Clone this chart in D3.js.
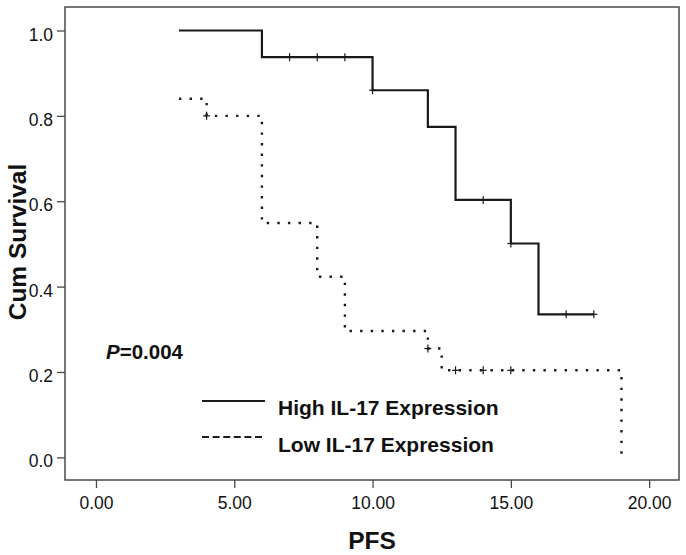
<!DOCTYPE html>
<html><head><meta charset="utf-8">
<script src="https://cdn.jsdelivr.net/npm/d3@7"></script>
<style>
html,body{margin:0;padding:0;background:#fff;}
text{font-family:"Liberation Sans",Arial,sans-serif;fill:#111;}
</style></head>
<body>
<svg id="c" width="686" height="555"></svg>
<script>
// ---- data ----
const highTimes = [3, 6, 10, 12, 13, 15, 16, 18];
const highSurv  = [1.0, 0.9375, 0.86, 0.774, 0.603, 0.501, 0.335, 0.335];
const highCensT = [7, 8, 9, 10, 14, 15, 17, 18];
const highCensS = [0.9375, 0.9375, 0.9375, 0.86, 0.603, 0.501, 0.335, 0.335];

const lowTimes = [3, 4, 6, 8, 9, 12, 12.5, 19];
const lowSurv  = [0.84, 0.80, 0.549, 0.423, 0.296, 0.255, 0.204, 0.0];
const lowCensT = [4, 12, 13, 14, 15];
const lowCensS = [0.80, 0.255, 0.204, 0.204, 0.204];

const xTicks = [0, 5, 10, 15, 20];
const yTicks = [0, 0.2, 0.4, 0.6, 0.8, 1.0];
const seriesNames = ["High IL-17 Expression", "Low IL-17 Expression"];
const pText = "=0.004";

// ---- layout ----
const svg = d3.select("#c");
const L = 65, T = 7, R = 679, B = 480;
const x = d3.scaleLinear().domain([-1.12, 21.08]).range([L, R]);
const y = d3.scaleLinear().domain([-0.053, 1.055]).range([B, T]);
const ink = "#1a1a1a";

// frame
svg.append("rect").attr("x", L).attr("y", T).attr("width", R - L).attr("height", B - T)
  .attr("fill", "none").attr("stroke", "#4a4a4a").attr("stroke-width", 1.5);

// axes
const xAxis = d3.axisBottom(x).tickValues(xTicks).tickFormat(d3.format(".2f")).tickSize(8).tickPadding(4);
const gx = svg.append("g").attr("transform", `translate(0,${B})`).call(xAxis);
gx.select(".domain").remove();
gx.selectAll("line").attr("stroke", "#4a4a4a").attr("stroke-width", 1.3);
gx.selectAll("text").attr("font-size", 17.5).attr("fill", "#0d0d0d").attr("dy", "0.95em")
  .style("font-family", "'Liberation Sans',Arial,sans-serif");

const yAxis = d3.axisLeft(y).tickValues(yTicks).tickFormat(d3.format(".1f")).tickSize(8).tickPadding(4);
const gy = svg.append("g").attr("transform", `translate(${L},0)`).call(yAxis);
gy.select(".domain").remove();
gy.selectAll("line").attr("stroke", "#4a4a4a").attr("stroke-width", 1.3);
gy.selectAll("text").attr("font-size", 17.5).attr("fill", "#0d0d0d").attr("dy", "0.55em")
  .style("font-family", "'Liberation Sans',Arial,sans-serif");

// titles
svg.append("text").attr("x", (L + R) / 2).attr("y", 549).attr("text-anchor", "middle")
  .attr("font-size", 24.5).attr("font-weight", "bold").text("PFS");
svg.append("text").attr("transform", `translate(25.5,242) rotate(-90)`)
  .attr("text-anchor", "middle").attr("font-size", 24.5).attr("font-weight", "bold").text("Cum Survival");

// curves
const line = d3.line().x(d => x(d[0])).y(d => y(d[1])).curve(d3.curveStepAfter);
const highPts = highTimes.map((t, i) => [t, highSurv[i]]);
const lowPts = lowTimes.map((t, i) => [t, lowSurv[i]]);

svg.append("path").attr("d", line(highPts)).attr("fill", "none")
  .attr("stroke", ink).attr("stroke-width", 2.2);
svg.append("path").attr("d", line(lowPts)).attr("fill", "none")
  .attr("stroke", ink).attr("stroke-width", 2.4).attr("stroke-dasharray", "2.4,8.2");

// censor marks
function cens(ts, ss, w) {
  const g = svg.append("g").attr("stroke", ink).attr("stroke-width", 1.2);
  ts.forEach((t, i) => {
    const cx = x(t), cy = y(ss[i]);
    g.append("line").attr("x1", cx).attr("x2", cx).attr("y1", cy - 4).attr("y2", cy + 4);
    g.append("line").attr("x1", cx - w).attr("x2", cx + w).attr("y1", cy).attr("y2", cy);
  });
}
cens(highCensT, highCensS, 3.5);
cens(lowCensT, lowCensS, 3.5);

// p-value
const pt = svg.append("text").attr("x", 106).attr("y", 359).attr("font-size", 20.5).attr("font-weight", "bold");
pt.append("tspan").attr("font-style", "italic").text("P");
pt.append("tspan").text(pText);

// legend
const lg = svg.append("g");
lg.append("line").attr("x1", 202).attr("x2", 265).attr("y1", 401).attr("y2", 401)
  .attr("stroke", ink).attr("stroke-width", 2.2);
lg.append("line").attr("x1", 202).attr("x2", 265).attr("y1", 437).attr("y2", 437)
  .attr("stroke", ink).attr("stroke-width", 2.2).attr("stroke-dasharray", "7,3.6");
lg.append("text").attr("x", 278).attr("y", 415).attr("font-size", 21).attr("font-weight", "bold").text(seriesNames[0]);
lg.append("text").attr("x", 278).attr("y", 452).attr("font-size", 21).attr("font-weight", "bold").text(seriesNames[1]);
</script>
</body></html>
